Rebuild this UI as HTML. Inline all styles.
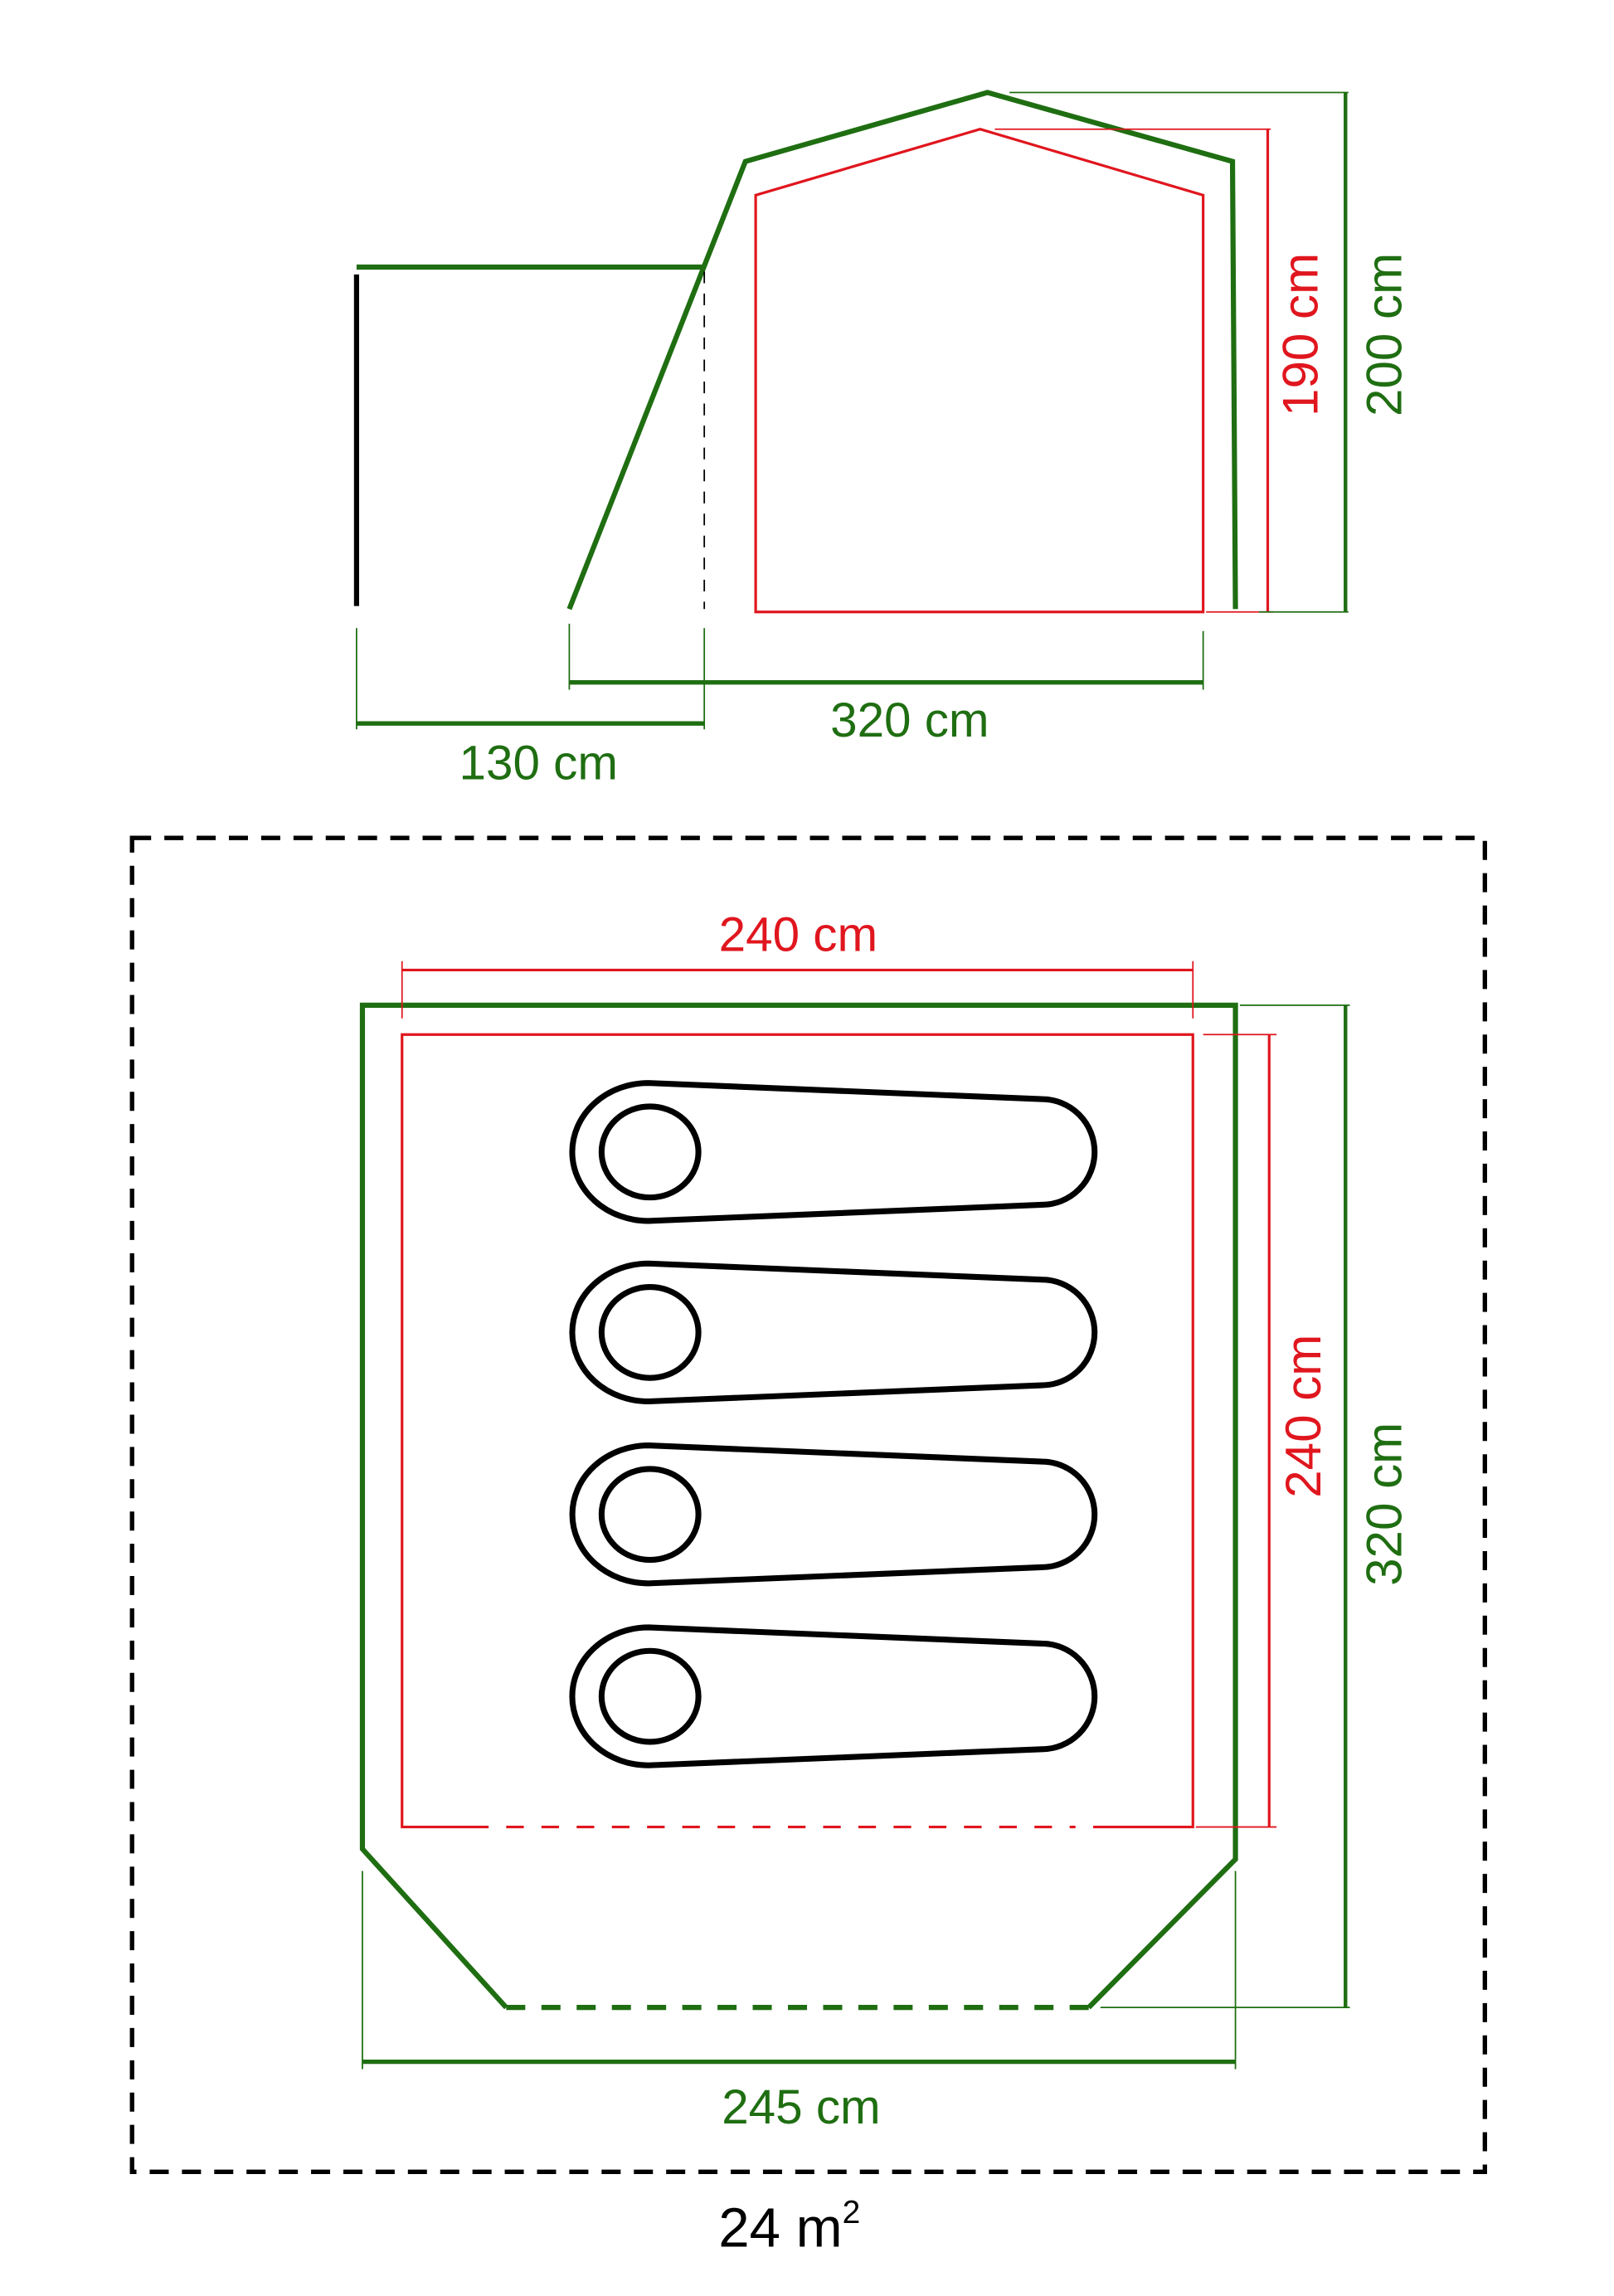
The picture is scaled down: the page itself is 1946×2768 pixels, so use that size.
<!DOCTYPE html>
<html><head><meta charset="utf-8"><style>
html,body{margin:0;padding:0;background:#fff;}
svg{display:block;}
text{font-family:"Liberation Sans",sans-serif;}
</style></head><body>
<svg width="1946" height="2768" viewBox="0 0 1100 1564.6" xmlns="http://www.w3.org/2000/svg">
<rect width="1100" height="1565" fill="#fff"/>
<!-- TOP VIEW -->
<g fill="none" stroke-linecap="butt">
  <line x1="243" y1="182" x2="480" y2="182" stroke="#1f6e12" stroke-width="3.5"/>
  <line x1="243" y1="187" x2="243" y2="413" stroke="#000" stroke-width="3.5"/>
  <polyline points="388,415 508,110 673,63 840,110 842,415" stroke="#1f6e12" stroke-width="3.5"/>
  <line x1="480" y1="185" x2="480" y2="415" stroke="#000" stroke-width="1" stroke-dasharray="8,7"/>
  <polygon points="515,133 668,88 820,133 820,417 515,417" stroke="#e0161e" stroke-width="1.8"/>
  <!-- 190 -->
  <polyline points="678,88 866,88" stroke="#e0161e" stroke-width="1"/>
  <line x1="864" y1="88" x2="864" y2="417" stroke="#e0161e" stroke-width="1.8"/>
  <line x1="822" y1="417" x2="868" y2="417" stroke="#e0161e" stroke-width="1"/>
  <!-- 200 -->
  <line x1="688" y1="63" x2="919" y2="63" stroke="#1f6e12" stroke-width="1"/>
  <line x1="917" y1="63" x2="917" y2="417" stroke="#1f6e12" stroke-width="2.5"/>
  <line x1="858" y1="417" x2="919" y2="417" stroke="#1f6e12" stroke-width="1"/>
  <!-- 320 -->
  <line x1="388" y1="465" x2="820" y2="465" stroke="#1f6e12" stroke-width="3"/>
  <line x1="388" y1="425" x2="388" y2="470" stroke="#1f6e12" stroke-width="1"/>
  <line x1="820" y1="430" x2="820" y2="470" stroke="#1f6e12" stroke-width="1"/>
  <!-- 130 -->
  <line x1="243" y1="493" x2="480" y2="493" stroke="#1f6e12" stroke-width="3"/>
  <line x1="243" y1="428" x2="243" y2="497" stroke="#1f6e12" stroke-width="1"/>
  <line x1="480" y1="428" x2="480" y2="497" stroke="#1f6e12" stroke-width="1"/>
</g>
<text x="620" y="502" font-size="33" fill="#1f6e12" text-anchor="middle">320 cm</text>
<text x="367" y="531" font-size="33" fill="#1f6e12" text-anchor="middle">130 cm</text>
<text transform="translate(898,228) rotate(-90)" font-size="34" fill="#e0161e" text-anchor="middle">190 cm</text>
<text transform="translate(955,228) rotate(-90)" font-size="34" fill="#1f6e12" text-anchor="middle">200 cm</text>

<!-- FLOOR PLAN -->
<rect x="90" y="571" width="922" height="909" fill="none" stroke="#000" stroke-width="3" stroke-dasharray="13,9"/>
<g fill="none">
  <polyline points="345,1368 247,1260 247,685 842,685 842,1267 742,1368" stroke="#1f6e12" stroke-width="3.5"/>
  <line x1="345" y1="1368" x2="742" y2="1368" stroke="#1f6e12" stroke-width="3.5" stroke-dasharray="13,11"/>
  <polyline points="333,1245 274,1245 274,705 813,705 813,1245 745,1245" stroke="#e0161e" stroke-width="1.8"/>
  <line x1="345" y1="1245" x2="733" y2="1245" stroke="#e0161e" stroke-width="1.8" stroke-dasharray="12,12"/>
  <line x1="274" y1="661" x2="813" y2="661" stroke="#e0161e" stroke-width="1.8"/>
  <line x1="274" y1="655" x2="274" y2="694" stroke="#e0161e" stroke-width="1"/>
  <line x1="813" y1="655" x2="813" y2="694" stroke="#e0161e" stroke-width="1"/>
  <line x1="865" y1="705" x2="865" y2="1245" stroke="#e0161e" stroke-width="1.8"/>
  <line x1="820" y1="705" x2="870" y2="705" stroke="#e0161e" stroke-width="1"/>
  <line x1="815" y1="1245" x2="870" y2="1245" stroke="#e0161e" stroke-width="1"/>
  <line x1="917" y1="685" x2="917" y2="1368" stroke="#1f6e12" stroke-width="2.5"/>
  <line x1="845" y1="685" x2="920" y2="685" stroke="#1f6e12" stroke-width="1"/>
  <line x1="750" y1="1368" x2="920" y2="1368" stroke="#1f6e12" stroke-width="1"/>
  <line x1="247" y1="1405" x2="842" y2="1405" stroke="#1f6e12" stroke-width="3"/>
  <line x1="247" y1="1275" x2="247" y2="1410" stroke="#1f6e12" stroke-width="1"/>
  <line x1="842" y1="1275" x2="842" y2="1410" stroke="#1f6e12" stroke-width="1"/>
  <g stroke="#000" stroke-width="4">
    <path d="M442,738 L710,749 A36,36 0 0 1 710,821 L442,832 A52,47 0 0 1 442,738 Z"/>
    <ellipse cx="443" cy="785" rx="33" ry="31"/>
    <path d="M442,861 L710,872 A36,36 0 0 1 710,944 L442,955 A52,47 0 0 1 442,861 Z"/>
    <ellipse cx="443" cy="908" rx="33" ry="31"/>
    <path d="M442,985 L710,996 A36,36 0 0 1 710,1068 L442,1079 A52,47 0 0 1 442,985 Z"/>
    <ellipse cx="443" cy="1032" rx="33" ry="31"/>
    <path d="M442,1109 L710,1120 A36,36 0 0 1 710,1192 L442,1203 A52,47 0 0 1 442,1109 Z"/>
    <ellipse cx="443" cy="1156" rx="33" ry="31"/>
  </g>
</g>
<text x="544" y="648" font-size="33" fill="#e0161e" text-anchor="middle">240 cm</text>
<text transform="translate(900,965) rotate(-90)" font-size="34" fill="#e0161e" text-anchor="middle">240 cm</text>
<text transform="translate(955,1025) rotate(-90)" font-size="34" fill="#1f6e12" text-anchor="middle">320 cm</text>
<text x="546" y="1447" font-size="33" fill="#1f6e12" text-anchor="middle">245 cm</text>
<text x="538" y="1531" font-size="38" fill="#000" text-anchor="middle">24 m<tspan font-size="22" dy="-16">2</tspan></text>
</svg>
</body></html>
